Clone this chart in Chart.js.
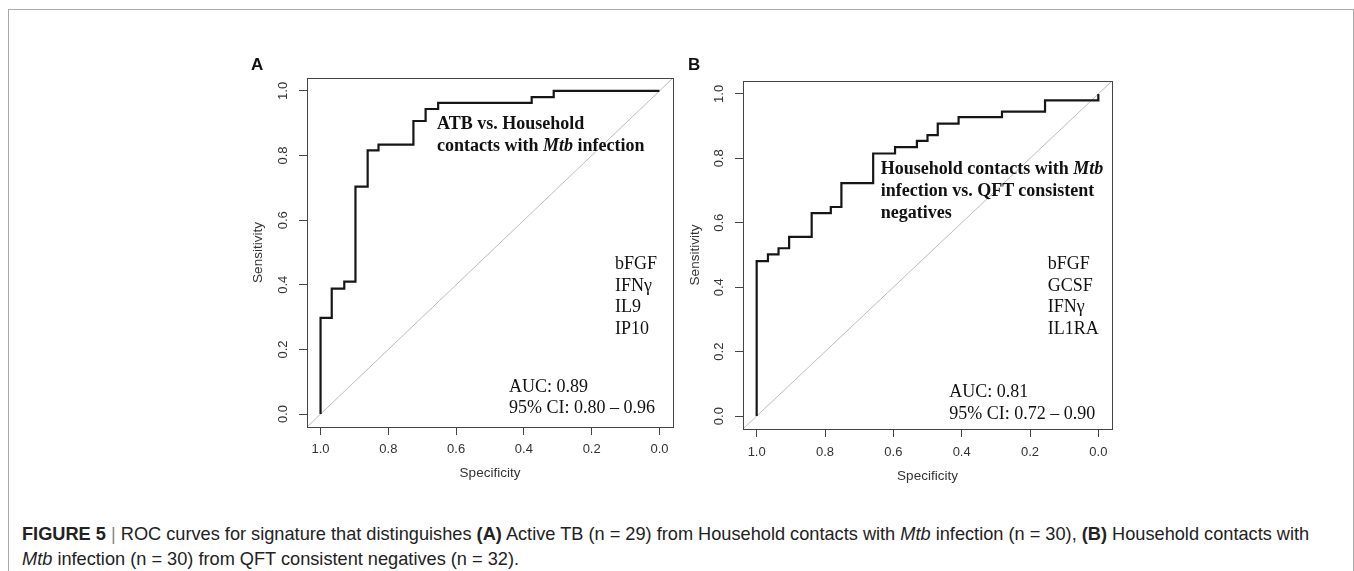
<!DOCTYPE html>
<html><head><meta charset="utf-8">
<script src="https://cdn.jsdelivr.net/npm/chart.js@4/dist/chart.umd.min.js"></script>
<style>
html,body{margin:0;padding:0;background:#fff;}
body{width:1354px;height:571px;position:relative;overflow:hidden;font-family:"Liberation Sans",Arial,sans-serif;}
#frame{position:absolute;left:8px;top:9px;width:1346px;height:600px;border:1px solid #aaa;box-sizing:border-box;}
canvas{position:absolute;}
.ann{position:absolute;font-family:"Liberation Serif","Times New Roman",serif;font-size:18px;color:#111;white-space:nowrap;}
.lbl{position:absolute;font-family:"Liberation Sans",Arial,sans-serif;font-weight:bold;font-size:17px;line-height:20px;color:#111;}
#cap{position:absolute;left:22px;top:521.5px;font-size:18.2px;line-height:25px;color:#222;white-space:nowrap;}
#cap .bar{color:#888;}
</style></head>
<body>
<div id="frame"></div>
<canvas id="cA" width="440" height="440" style="left:240px;top:50px"></canvas>
<canvas id="cB" width="440" height="440" style="left:680px;top:50px"></canvas>
<div class="lbl" style="left:251px;top:55px">A</div>
<div class="lbl" style="left:688px;top:55px">B</div>

<div class="ann" style="left:437px;top:113px;line-height:21.7px;font-weight:bold">ATB vs. Household<br>contacts with <i>Mtb</i> infection</div>
<div class="ann" style="left:615px;top:253px;line-height:21.7px">bFGF<br>IFNγ<br>IL9<br>IP10</div>
<div class="ann" style="left:509px;top:375.5px;line-height:21px">AUC: 0.89<br>95% CI: 0.80 – 0.96</div>

<div class="ann" style="left:880.7px;top:157px;line-height:22px;font-weight:bold">Household contacts with <i>Mtb</i><br>infection vs. QFT consistent<br>negatives</div>
<div class="ann" style="left:1047.7px;top:253px;line-height:21.7px">bFGF<br>GCSF<br>IFNγ<br>IL1RA</div>
<div class="ann" style="left:949.3px;top:379.5px;line-height:22.6px">AUC: 0.81<br>95% CI: 0.72 – 0.90</div>

<div id="cap"><b>FIGURE 5</b> <span class="bar">|</span> ROC curves for signature that distinguishes <b>(A)</b> Active TB (n = 29) from Household contacts with <i>Mtb</i> infection (n = 30), <b>(B)</b> Household contacts with<br><i>Mtb</i> infection (n = 30) from QFT consistent negatives (n = 32).</div>

<script>
// ---- data ----
const tickVals = [0.0, 0.2, 0.4, 0.6, 0.8, 1.0];

// Panel A: ROC corner points (specificity, sensitivity)
const specA = [1.0, 1.0, 0.967, 0.930, 0.897, 0.861, 0.829, 0.726, 0.690, 0.653, 0.377, 0.312, 0.0];
const sensA = [0.0, 0.298, 0.388, 0.410, 0.704, 0.816, 0.834, 0.907, 0.944, 0.963, 0.981, 1.0, 1.0];

// Panel B: ROC corner points (specificity, sensitivity)
const specB = [1.0, 1.0, 0.967, 0.936, 0.905, 0.839, 0.783, 0.752, 0.659, 0.595, 0.531, 0.500, 0.470, 0.409, 0.282, 0.156, 0.0];
const sensB = [0.0, 0.481, 0.502, 0.521, 0.556, 0.630, 0.649, 0.723, 0.815, 0.835, 0.854, 0.872, 0.908, 0.928, 0.945, 0.980, 1.0];

// chance (reference) diagonal, across the full plot range
const diagSpec = [1.04, -0.04];
const diagSens = [-0.04, 1.04];

const axisMin = -0.04, axisMax = 1.04;

const boxPlugin = {
  id: 'box',
  afterDraw(chart) {
    const {ctx, chartArea: a} = chart;
    ctx.save();
    ctx.strokeStyle = '#444';
    ctx.lineWidth = 1;
    ctx.strokeRect(Math.round(a.left) + 0.5, Math.round(a.top) + 0.5, Math.round(a.right - a.left), Math.round(a.bottom - a.top));
    ctx.restore();
  }
};

const tickFont = {family: '"Liberation Sans", Arial, sans-serif', size: 13};
const titleFont = {family: '"Liberation Sans", Arial, sans-serif', size: 13.5};

function makeChart(id, spec, sens, cfg) {
  const pts = spec.map((x, i) => ({x: x, y: sens[i]}));
  const diag = diagSpec.map((x, i) => ({x: x, y: diagSens[i]}));
  return new Chart(document.getElementById(id), {
    type: 'scatter',
    data: {datasets: [
      {data: diag, showLine: true, borderColor: '#bcbcbc', borderWidth: 1, pointRadius: 0, order: 2},
      {data: pts, showLine: true, stepped: 'before', borderColor: '#161616', borderWidth: 2.2, pointRadius: 0, order: 1}
    ]},
    options: {
      responsive: false,
      animation: false,
      events: [],
      layout: {padding: {top: cfg.padTop, right: cfg.padRight, left: 0, bottom: 0}},
      plugins: {legend: {display: false}, tooltip: {enabled: false}},
      scales: {
        x: {
          type: 'linear', reverse: true, min: axisMin, max: axisMax,
          afterBuildTicks: s => { s.ticks = tickVals.map(v => ({value: v})); },
          afterFit: s => { s.height = cfg.xH; },
          ticks: {callback: v => Number(v).toFixed(1), padding: cfg.xPad, font: tickFont, color: '#333', maxRotation: 0, autoSkip: false},
          grid: {drawOnChartArea: false, tickLength: 8, color: '#444'},
          border: {display: false},
          title: {display: true, text: 'Specificity', font: titleFont, color: '#333', padding: {top: 0, bottom: cfg.xTitlePad}}
        },
        y: {
          type: 'linear', min: axisMin, max: axisMax,
          afterBuildTicks: s => { s.ticks = tickVals.map(v => ({value: v})); },
          afterFit: s => { s.width = cfg.yW; },
          ticks: {callback: v => Number(v).toFixed(1), padding: 7, font: tickFont, color: '#333', minRotation: 90, maxRotation: 90, crossAlign: 'center', autoSkip: false},
          grid: {drawOnChartArea: false, tickLength: 8, color: '#444'},
          border: {display: false},
          title: {display: true, text: 'Sensitivity', font: titleFont, color: '#333', padding: {top: cfg.yTitlePad, bottom: 0}}
        }
      }
    },
    plugins: [boxPlugin]
  });
}

makeChart('cA', specA, sensA, {padTop: 28, padRight: 7, xH: 63, yW: 67, xPad: 7, xTitlePad: 9, yTitlePad: 10});
makeChart('cB', specB, sensB, {padTop: 31, padRight: 8, xH: 61, yW: 63, xPad: 8, xTitlePad: 5.5, yTitlePad: 7});
</script>
</body></html>
